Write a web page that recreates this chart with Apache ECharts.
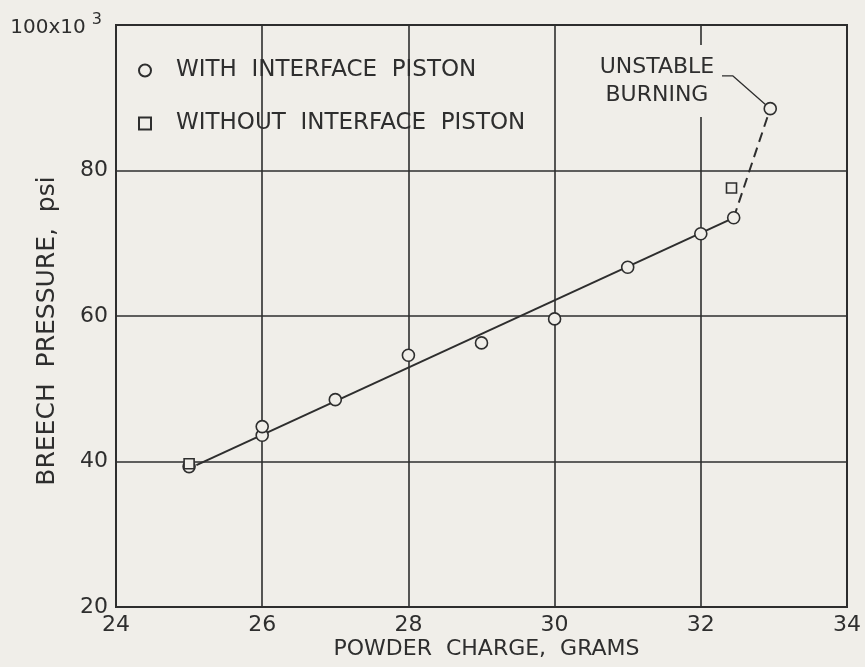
<!DOCTYPE html>
<html>
<head>
<meta charset="utf-8">
<script src="https://cdn.jsdelivr.net/npm/echarts@6/dist/echarts.min.js"></script>
<style>
html,body{margin:0;padding:0;background:#f0eee9;}
#chart{width:865px;height:667px;}
</style>
</head>
<body>
<div id="chart"></div>
<script>
// Powder charge (grams) and breech pressure (psi x 10^3)
var withPistonCharge   = [25.0, 26.0, 26.0, 27.0, 28.0, 29.0, 30.0, 31.0, 32.0, 32.45, 32.95];
var withPistonPressure = [39.3, 43.6, 44.8, 48.5, 54.6, 56.3, 59.6, 66.7, 71.3, 73.5, 88.5];
var withoutPistonCharge   = [25.0, 32.42];
var withoutPistonPressure = [39.7, 77.6];
// faired curve (solid) and unstable extension (dashed)
var fairedCharge   = [25.1, 32.45];
var fairedPressure = [39.5, 73.5];
var unstableCharge   = [32.45, 32.95];
var unstablePressure = [73.5, 88.5];
// leader line from the unstable point to its note
var leaderCharge   = [32.95, 32.44, 32.29];
var leaderPressure = [88.5, 93.0, 93.0];
var noteCharge = 31.4, notePressure = 92.3;
var xTicks = [24, 26, 28, 30, 32, 34];
var yTicks = [20, 40, 60, 80, 100];

function pairs(xs, ys){ return xs.map(function(x,i){ return [x, ys[i]]; }); }

var ink = '#2e2e2e';
var bg = '#f0eee9';
var font = 'DejaVu Sans';

var chart = echarts.init(document.getElementById('chart'));
chart.setOption({
  backgroundColor: bg,
  animation: false,
  textStyle: {fontFamily: font, color: ink},
  grid: {left: 116, right: 18, top: 25, bottom: 60, containLabel: false, outerBoundsMode: 'none',
         show: true, borderColor: ink, borderWidth: 2, backgroundColor: 'transparent'},
  legend: {
    data: ['WITH  INTERFACE  PISTON', 'WITHOUT  INTERFACE  PISTON'],
    orient: 'vertical', left: 133, top: 54, itemGap: 30,
    itemWidth: 12, itemHeight: 12,
    textStyle: {fontSize: 23, color: ink, fontFamily: font, padding: [0, 0, 0, 20]},
    selectedMode: false
  },
  xAxis: {
    type: 'value', min: xTicks[0], max: xTicks[xTicks.length-1], interval: 2,
    name: 'POWDER  CHARGE,  GRAMS', nameLocation: 'middle', nameGap: 31, nameMoveOverlap: false,
    nameTextStyle: {fontSize: 22, color: ink, fontFamily: font, padding: [0, 0, 0, 10]},
    axisLine: {show: true, lineStyle: {color: ink, width: 2}},
    axisTick: {show: false},
    axisLabel: {fontSize: 22, color: ink, margin: 7, fontFamily: font, showMinLabel: true, showMaxLabel: true},
    splitLine: {show: true, lineStyle: {color: ink, width: 1.6}}
  },
  yAxis: {
    type: 'value', min: yTicks[0], max: yTicks[yTicks.length-1], interval: 20,
    name: 'BREECH  PRESSURE,  psi', nameLocation: 'middle', nameGap: 56, nameMoveOverlap: false,
    nameTextStyle: {fontSize: 25, color: ink, fontFamily: font, padding: [0, 30, 0, 0]},
    axisLine: {show: true, lineStyle: {color: ink, width: 2}},
    axisTick: {show: false},
    axisLabel: {
      fontSize: 22, color: ink, margin: 8, fontFamily: font,
      formatter: function(v){ return v === 100 ? '{a|100x10}{b|3}' : String(v); },
      rich: {
        a: {fontSize: 20, color: ink, fontFamily: font, padding: [6, 0, 0, 0]},
        b: {fontSize: 16, color: ink, fontFamily: font, verticalAlign: 'top', padding: [0, 6, 8, 6]}
      }
    },
    splitLine: {show: true, lineStyle: {color: ink, width: 1.6}}
  },
  series: [
    {
      type: 'line', name: 'faired', data: pairs(fairedCharge, fairedPressure),
      symbol: 'none', lineStyle: {color: ink, width: 2}, z: 3
    },
    {
      type: 'line', name: 'unstable', data: pairs(unstableCharge, unstablePressure),
      symbol: 'none', lineStyle: {color: ink, width: 2, type: [10, 6]}, z: 3
    },
    {
      type: 'line', name: 'leader', data: pairs(leaderCharge, leaderPressure),
      symbol: 'none', lineStyle: {color: ink, width: 1.3}, z: 3
    },
    {
      type: 'scatter', name: 'note', data: [[noteCharge, notePressure]],
      symbol: 'circle', symbolSize: 1, itemStyle: {color: 'rgba(0,0,0,0)', opacity: 1}, z: 4,
      label: {
        show: true, position: 'inside', formatter: 'UNSTABLE\nBURNING', opacity: 1,
        fontSize: 22, lineHeight: 28, color: ink, fontFamily: font, align: 'center', verticalAlign: 'middle',
        backgroundColor: bg, padding: [8, 4, 8, 4]
      }
    },
    {
      type: 'scatter', name: 'WITH  INTERFACE  PISTON', data: pairs(withPistonCharge, withPistonPressure),
      symbol: 'circle', symbolSize: 12,
      itemStyle: {color: bg, borderColor: ink, borderWidth: 1.6, opacity: 1}, z: 5
    },
    {
      type: 'scatter', name: 'WITHOUT  INTERFACE  PISTON', data: pairs(withoutPistonCharge, withoutPistonPressure),
      symbol: 'rect', symbolSize: 10,
      itemStyle: {color: bg, borderColor: ink, borderWidth: 1.6, opacity: 1}, z: 5
    }
  ]
});
</script>
</body>
</html>
